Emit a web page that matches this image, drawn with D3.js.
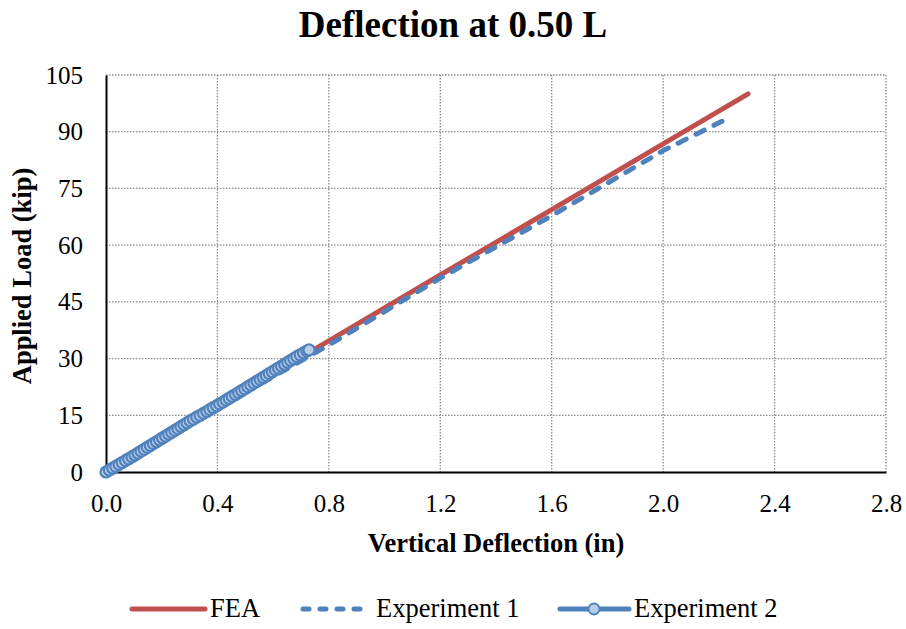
<!DOCTYPE html>
<html>
<head>
<meta charset="utf-8">
<script src="https://cdn.jsdelivr.net/npm/d3@7"></script>
<style>
  body { margin: 0; background: #fff; }
  svg { display: block; }
  text { font-family: "Liberation Serif", "Times New Roman", serif; fill: #000; }
</style>
</head>
<body>
<script>
// ---- Data ----
const xTicks = [0.0, 0.4, 0.8, 1.2, 1.6, 2.0, 2.4, 2.8];
const yTicks = [0, 15, 30, 45, 60, 75, 90, 105];

const feaDefl = [0.0, 0.4, 0.8, 1.2, 1.6, 2.0, 2.305];
const feaLoad = [0.0, 17.4, 34.7, 52.1, 69.4, 86.8, 100.0];

const exp1Defl = [0.0, 0.4, 0.8, 1.2, 1.6, 2.0, 2.237];
const exp1Load = [0.0, 16.8, 33.6, 51.3, 67.8, 85.0, 93.7];

const exp2Load = [0.0, 0.5, 1.0, 1.5, 2.0, 2.5, 3.0, 3.5, 4.0, 4.5, 5.0, 5.5, 6.0, 6.5, 7.0, 7.5, 8.0, 8.5, 9.0, 9.5,
  10.0, 10.5, 11.0, 11.5, 12.0, 12.5, 13.0, 13.5, 14.0, 14.5, 15.0, 15.5, 16.0, 16.5, 17.0, 17.5, 18.0, 18.5, 19.0, 19.5,
  20.0, 20.5, 21.0, 21.5, 22.0, 22.5, 23.0, 23.5, 24.0, 24.5, 25.0, 25.5, 26.0, 26.5, 27.0, 27.5, 28.0, 28.5, 29.0, 29.5,
  30.0, 30.5, 31.0, 31.5, 32.0, 32.3];
const exp2Defl = [0.000, 0.012, 0.024, 0.035, 0.047, 0.058, 0.070, 0.081, 0.093, 0.104, 0.115, 0.126, 0.137, 0.148, 0.159, 0.170, 0.181, 0.192, 0.203, 0.214,
  0.225, 0.236, 0.247, 0.258, 0.269, 0.280, 0.291, 0.302, 0.314, 0.326, 0.338, 0.350, 0.362, 0.373, 0.385, 0.397, 0.408, 0.420, 0.431, 0.442,
  0.453, 0.465, 0.476, 0.487, 0.498, 0.509, 0.520, 0.531, 0.542, 0.553, 0.564, 0.575, 0.586, 0.597, 0.608, 0.619, 0.630, 0.641, 0.652, 0.663,
  0.674, 0.685, 0.697, 0.709, 0.721, 0.729];

const seriesNames = ["FEA", "Experiment 1", "Experiment 2"];

// ---- Layout ----
const W = 906, H = 629;
const pLeft = 106, pRight = 886, pTop = 75, pBottom = 472;

const svg = d3.select("body").append("svg").attr("width", W).attr("height", H);

const x = d3.scaleLinear().domain([0, 2.8]).range([pLeft, pRight]);
const y = d3.scaleLinear().domain([0, 105]).range([pBottom, pTop]);

const red = "#C0504D", blue = "#4F81BD", lightBlue = "#B9CDE5", gridCol = "#8C8C8C";

// gridlines
const g = svg.append("g");
g.selectAll(".vg").data(xTicks.slice(1)).join("line")
  .attr("x1", d => x(d)).attr("x2", d => x(d)).attr("y1", pTop).attr("y2", pBottom)
  .attr("stroke", gridCol).attr("stroke-width", 1.3).attr("stroke-dasharray", "1.5,1.5");
g.selectAll(".hg").data(yTicks.slice(1)).join("line")
  .attr("x1", pLeft).attr("x2", pRight).attr("y1", d => y(d)).attr("y2", d => y(d))
  .attr("stroke", gridCol).attr("stroke-width", 1.3).attr("stroke-dasharray", "1.5,1.5");

// axes
const xAxis = d3.axisBottom(x).tickValues(xTicks).tickFormat(d3.format(".1f")).tickSize(0).tickPadding(22);
const yAxis = d3.axisLeft(y).tickValues(yTicks).tickFormat(d3.format("d")).tickSize(0).tickPadding(23);

const gx = svg.append("g").attr("transform", `translate(0,${pBottom})`).call(xAxis);
gx.select(".domain").attr("stroke", "#000").attr("stroke-width", 2);
gx.selectAll("text").style("font-family", "Liberation Serif").style("font-size", "25px").attr("fill", "#000");

const gy = svg.append("g").attr("transform", `translate(${pLeft},0)`).call(yAxis);
gy.select(".domain").attr("stroke", "#000").attr("stroke-width", 2);
gy.selectAll("text").style("font-family", "Liberation Serif").style("font-size", "25px").attr("fill", "#000");

// lines
const line = d3.line().x(d => x(d[0])).y(d => y(d[1]));
const fea = feaDefl.map((d, i) => [d, feaLoad[i]]);
const exp1 = exp1Defl.map((d, i) => [d, exp1Load[i]]);
const exp2 = exp2Defl.map((d, i) => [d, exp2Load[i]]);

svg.append("path").datum(fea).attr("d", line).attr("fill", "none")
  .attr("stroke", red).attr("stroke-width", 5).attr("stroke-linecap", "round");
svg.append("path").datum(exp1).attr("d", line).attr("fill", "none")
  .attr("stroke", blue).attr("stroke-width", 5).attr("stroke-linecap", "round")
  .attr("stroke-dasharray", "9,11");
svg.append("path").datum(exp2).attr("d", line).attr("fill", "none")
  .attr("stroke", blue).attr("stroke-width", 4);
svg.append("g").selectAll("circle").data(exp2).join("circle")
  .attr("cx", d => x(d[0])).attr("cy", d => y(d[1])).attr("r", 5.5)
  .attr("fill", lightBlue).attr("stroke", blue).attr("stroke-width", 2.2);

// title
svg.append("text").attr("x", 453).attr("y", 37).attr("text-anchor", "middle")
  .style("font-size", "37px").style("font-weight", "bold").text("Deflection at 0.50 L");

// axis titles
svg.append("text").attr("x", (pLeft + pRight) / 2).attr("y", 552).attr("text-anchor", "middle")
  .style("font-size", "26.5px").style("font-weight", "bold").text("Vertical Deflection (in)");
svg.append("text").attr("transform", `translate(31,276) rotate(-90)`).attr("text-anchor", "middle")
  .style("font-size", "26.5px").style("font-weight", "bold").text("Applied Load (kip)");

// legend
const ly = 609;
const leg = svg.append("g");
leg.append("line").attr("x1", 132).attr("x2", 205).attr("y1", ly).attr("y2", ly)
  .attr("stroke", red).attr("stroke-width", 5).attr("stroke-linecap", "round");
leg.append("text").attr("x", 210).attr("y", ly + 8).style("font-size", "26.5px").text(seriesNames[0]);
leg.append("line").attr("x1", 303).attr("x2", 360).attr("y1", ly).attr("y2", ly)
  .attr("stroke", blue).attr("stroke-width", 5).attr("stroke-linecap", "round").attr("stroke-dasharray", "6,11");
leg.append("text").attr("x", 376).attr("y", ly + 8).style("font-size", "26.5px").text(seriesNames[1]);
leg.append("line").attr("x1", 560).attr("x2", 629).attr("y1", ly).attr("y2", ly)
  .attr("stroke", blue).attr("stroke-width", 5).attr("stroke-linecap", "round");
leg.append("circle").attr("cx", 594).attr("cy", ly).attr("r", 5.5)
  .attr("fill", lightBlue).attr("stroke", blue).attr("stroke-width", 1.8);
leg.append("text").attr("x", 634).attr("y", ly + 8).style("font-size", "26.5px").text(seriesNames[2]);
</script>
</body>
</html>
